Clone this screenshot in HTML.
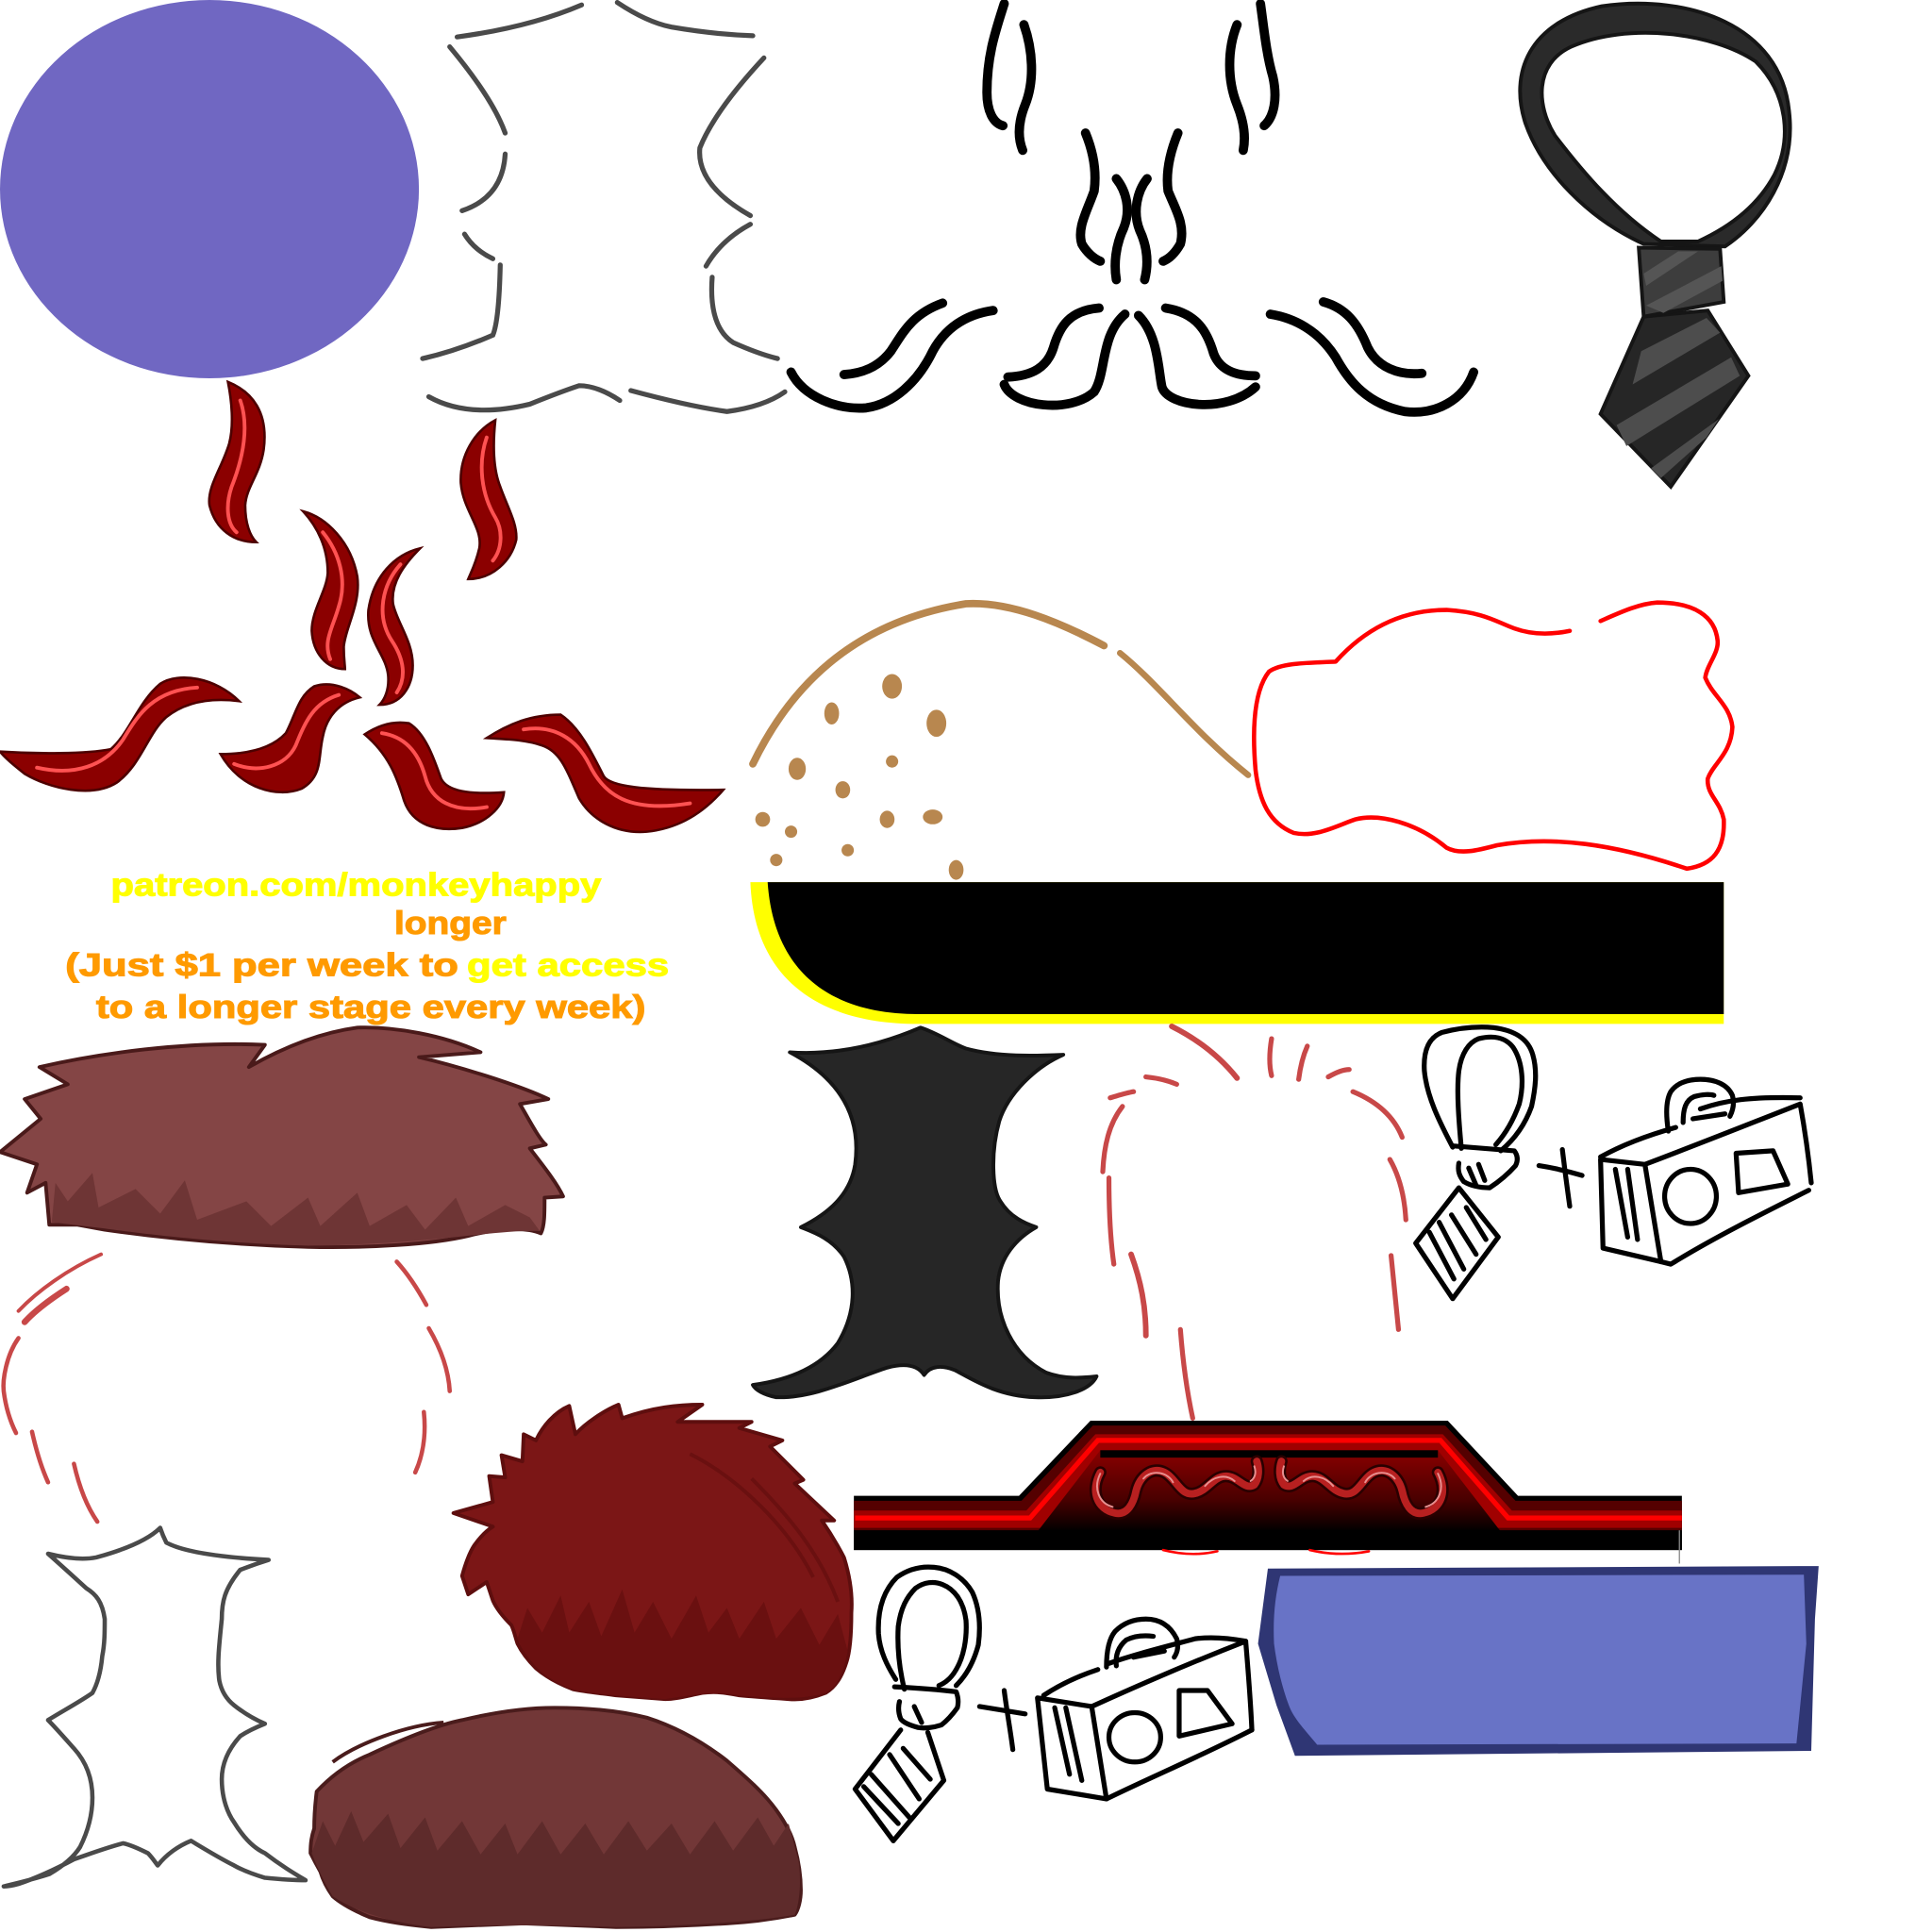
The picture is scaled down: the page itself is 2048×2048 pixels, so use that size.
<!DOCTYPE html>
<html>
<head>
<meta charset="utf-8">
<style>
html,body{margin:0;padding:0;background:#fff;}
svg{display:block;}
text{font-family:"Liberation Sans",Arial,sans-serif;font-weight:bold;}
</style>
</head>
<body>
<svg xmlns="http://www.w3.org/2000/svg" width="2048" height="2048" viewBox="0 0 1568 1568">
<defs>
<linearGradient id="pg" x1="0" y1="0" x2="0" y2="1">
<stop offset="0" stop-color="#8a0000"/>
<stop offset="0.6" stop-color="#4a0000"/>
<stop offset="1" stop-color="#000"/>
</linearGradient>
</defs>
<rect width="1568" height="1568" fill="#fff"/>

<!-- purple ellipse -->
<ellipse cx="170" cy="153.5" rx="170" ry="153.5" fill="#7067c2"/>

<!-- gray outline pieces -->
<g fill="none" stroke="#4a4a4a" stroke-width="4" stroke-linecap="round">
<path d="M371 30 Q430 22 472 4"/>
<path d="M501 2 Q525 18 545 22 Q580 28 611 29"/>
<path d="M365 38 Q400 80 410 108"/>
<path d="M410 125 Q408 160 375 171"/>
<path d="M377 190 Q385 203 400 210"/>
<path d="M406 215 Q405 260 400 272 Q370 285 343 291"/>
<path d="M348 322 Q380 340 430 328 Q455 318 470 313 Q485 313 503 325"/>
<path d="M512 317 Q560 330 590 334 Q620 330 637 318"/>
<path d="M620 47 Q580 90 568 120 Q565 150 609 175"/>
<path d="M609 182 Q585 195 573 216"/>
<path d="M578 225 Q575 265 595 278 Q615 287 631 291"/>
</g>

<!-- black squiggles & mustaches -->
<g fill="none" stroke="#000" stroke-width="7.5" stroke-linecap="round" stroke-linejoin="round">
<path d="M815 3 C808 25 801 45 801 75 C801 90 806 100 814 102"/>
<path d="M831 20 C838 40 840 65 832 85 C826 100 826 112 830 122"/>
<path d="M1023 3 C1026 25 1028 45 1033 62 C1037 80 1034 95 1026 102"/>
<path d="M1004 20 C996 40 996 65 1004 85 C1010 100 1011 112 1009 122"/>
<path d="M881 108 C888 125 890 140 888 155 C882 172 874 185 878 198 C882 205 888 210 893 212"/>
<path d="M906 145 C914 155 918 170 912 185 C905 200 904 215 906 227"/>
<path d="M931 145 C923 155 919 172 925 187 C932 202 932 215 929 227"/>
<path d="M956 108 C949 125 946 140 948 155 C954 170 962 182 958 198 C954 205 949 210 944 212"/>
<path d="M642 302 C652 322 680 333 703 331 C725 328 745 310 757 285 C768 265 785 255 806 252"/>
<path d="M685 304 C700 303 713 298 723 285 C733 270 740 255 765 246"/>
<path d="M892 250 C868 252 860 265 855 282 C850 298 838 305 818 306"/>
<path d="M815 312 C822 330 868 336 888 318 C898 303 893 272 913 255"/>
<path d="M946 250 C972 254 980 270 985 287 C990 300 1002 305 1019 305"/>
<path d="M924 256 C940 272 940 300 943 314 C948 330 995 336 1019 314"/>
<path d="M1031 255 C1050 258 1070 268 1084 290 C1095 310 1110 328 1140 334 C1165 337 1188 325 1196 302"/>
<path d="M1074 245 C1092 250 1102 262 1110 282 C1118 298 1135 305 1154 303"/>
</g>

<!-- tie top-right -->
<path fill-rule="evenodd" fill="#2a2a2a" stroke="#151515" stroke-width="3" d="M1334 198 C1290 178 1252 140 1238 100 C1225 60 1240 18 1300 5 C1370 -5 1445 20 1452 90 C1458 140 1430 180 1400 200 Z M1348 196 C1312 172 1285 140 1262 110 C1247 86 1245 52 1275 38 C1320 18 1390 26 1425 50 C1450 75 1455 112 1440 142 C1425 170 1400 186 1378 196 Z"/>
<path fill="#262626" stroke="#151515" stroke-width="3" d="M1334 257 L1386 252 L1419 305 L1356 395 L1299 336 Z"/>
<path fill="#4d4d4d" d="M1332 285 L1385 258 L1396 270 L1325 312 Z M1312 345 L1405 290 L1412 305 L1320 362 Z M1340 380 L1395 340 L1385 355 L1348 388 Z"/>
<path fill="#3d3d3d" stroke="#151515" stroke-width="3" d="M1330 201 L1396 202 L1399 245 L1334 257 Z"/>
<path fill="#555" d="M1334 222 L1362 204 L1378 204 L1336 232 Z M1336 248 L1397 216 L1398 228 L1350 254 Z"/>

<!-- red horns -->
<g fill="#8b0000" stroke="#4d0000" stroke-width="2">
<path d="M185 310 C205 318 218 335 214 365 C211 385 200 395 199 410 C199 425 203 435 208 440 C190 440 175 430 170 410 C168 395 180 380 186 360 C190 345 188 325 185 310 Z"/>
<path d="M402 341 C385 350 373 370 374 392 C376 415 392 428 389 445 C386 458 382 465 380 470 C400 470 415 455 419 438 C420 425 412 412 406 395 C400 380 400 360 402 341 Z"/>
<path d="M246 415 C265 420 285 440 290 468 C293 490 280 510 279 525 C279 535 280 540 280 543 C265 543 254 530 253 512 C253 495 265 480 266 465 C266 445 258 428 246 415 Z"/>
<path d="M341 445 C320 450 303 468 299 495 C297 520 313 530 315 548 C316 560 312 568 308 572 C325 572 335 558 335 540 C335 520 322 505 319 490 C317 473 328 458 341 445 Z"/>
<path d="M0 610 C30 612 70 612 90 608 C105 595 112 570 130 555 C145 545 175 550 194 569 C170 566 150 570 135 582 C120 595 115 620 95 635 C75 648 40 640 20 628 C10 620 4 615 0 610 Z"/>
<path d="M179 612 C200 612 220 608 232 595 C240 580 242 565 255 557 C270 552 285 560 292 566 C275 570 265 582 262 598 C258 615 262 630 245 640 C225 648 195 640 179 612 Z"/>
<path d="M296 596 C308 588 320 585 332 587 C345 595 352 615 358 632 C363 642 380 645 409 643 C408 655 395 668 375 672 C355 675 335 670 328 650 C322 630 315 612 296 596 Z"/>
<path d="M395 599 C412 588 430 580 455 580 C470 590 480 610 490 630 C495 638 520 642 587 641 C575 655 555 672 525 675 C500 677 480 665 470 648 C460 625 455 610 440 605 C425 600 410 600 395 599 Z"/>
</g>
<g fill="none" stroke="#ff5252" stroke-width="3" stroke-linecap="round">
<path d="M195 325 C202 345 198 370 188 395 C183 410 184 425 192 432"/>
<path d="M395 355 C388 375 390 400 402 420 C408 430 408 445 400 455"/>
<path d="M262 432 C275 448 282 470 275 492 C270 510 262 520 268 535"/>
<path d="M325 458 C310 475 305 500 318 520 C328 535 330 550 322 562"/>
<path d="M30 623 C60 630 85 622 100 600 C112 580 125 560 160 558"/>
<path d="M190 620 C210 628 232 622 240 605 C248 585 255 570 275 564"/>
<path d="M310 595 C330 598 340 612 345 630 C350 650 368 660 395 655"/>
<path d="M425 592 C450 588 468 600 478 620 C490 645 510 660 560 652"/>
</g>

<!-- brown arc and dots -->
<g fill="none" stroke="#b8874f" stroke-linecap="round">
<path stroke-width="6" d="M611 620 C640 560 690 505 784 490 C820 488 860 505 896 524"/>
<path stroke-width="5" d="M909 530 C940 555 970 595 1013 629"/>
</g>
<g fill="#b8874f">
<ellipse cx="724" cy="557" rx="8" ry="10"/>
<ellipse cx="675" cy="579" rx="6" ry="9"/>
<ellipse cx="760" cy="587" rx="8" ry="11"/>
<ellipse cx="647" cy="624" rx="7" ry="9"/>
<ellipse cx="724" cy="618" rx="5" ry="5"/>
<ellipse cx="684" cy="641" rx="6" ry="7"/>
<ellipse cx="619" cy="665" rx="6" ry="6"/>
<ellipse cx="720" cy="665" rx="6" ry="7"/>
<ellipse cx="757" cy="663" rx="8" ry="6"/>
<ellipse cx="642" cy="675" rx="5" ry="5"/>
<ellipse cx="688" cy="690" rx="5" ry="5"/>
<ellipse cx="630" cy="698" rx="5" ry="5"/>
<ellipse cx="776" cy="706" rx="6" ry="8"/>
</g>

<!-- red outline blob -->
<path fill="none" stroke="#ff0000" stroke-width="3.5" stroke-linecap="round" d="M1084 537 C1060 538 1040 538 1030 545 C1018 560 1016 590 1019 625 C1022 650 1030 668 1050 676 C1068 680 1085 670 1100 665 C1120 660 1150 668 1174 688 C1185 694 1200 690 1215 686 C1260 678 1310 685 1369 705 C1390 702 1400 690 1399 665 C1396 650 1385 645 1386 632 C1390 620 1405 612 1406 590 C1404 572 1390 565 1384 550 C1385 540 1395 530 1394 520 C1392 500 1375 489 1345 489 C1330 490 1315 497 1299 504 M1274 512 C1255 516 1240 514 1229 510 C1215 505 1205 497 1174 495 C1140 495 1110 508 1084 537"/>

<!-- black bar with yellow edge -->
<path fill="#ffff00" d="M609 716 C612 795 665 831 745 831 L1399 831 L1399 716 Z"/>
<path fill="#000" d="M623 716 C628 790 675 823 745 823 L1399 823 L1399 716 Z"/>

<!-- text -->
<g stroke-width="0.8">
<text x="90" y="727" font-size="26" textLength="398" lengthAdjust="spacingAndGlyphs" fill="#ffff00" stroke="#ffff00">patreon.com/monkeyhappy</text>
<text x="320" y="758" font-size="26" textLength="91" lengthAdjust="spacingAndGlyphs" fill="#ff9a00" stroke="#ff9a00">longer</text>
<text x="53" y="792" font-size="26" textLength="319" lengthAdjust="spacingAndGlyphs" fill="#ff9a00" stroke="#ff9a00">(Just $1 per week to</text>
<text x="379" y="792" font-size="26" textLength="164" lengthAdjust="spacingAndGlyphs" fill="#ffff00" stroke="#ffff00">get access</text>
<text x="78" y="826" font-size="26" textLength="446" lengthAdjust="spacingAndGlyphs" fill="#ff9a00" stroke="#ff9a00">to a longer stage every week)</text>
</g>

<!-- brown spiky hair -->
<path fill="#844545" stroke="#4a1a1a" stroke-width="3" stroke-linejoin="round" d="M32 866 C80 855 150 845 215 848 L202 866 C230 850 260 838 290 834 C320 833 360 840 390 854 L340 858 C370 865 420 880 445 892 L422 896 C430 910 438 925 443 929 L430 932 C440 945 452 960 457 971 L442 972 C442 985 442 995 439 1001 C425 995 400 998 380 1003 C350 1010 300 1013 250 1012 C180 1010 120 1003 85 998 L63 994 L40 994 L37 960 L22 968 L30 945 L0 935 L33 908 L20 892 L55 880 Z"/>
<path fill="#6e3535" d="M42 992 L45 960 L55 975 L75 952 L80 980 L110 965 L130 985 L150 958 L160 990 L200 975 L220 995 L250 972 L260 995 L290 968 L300 995 L330 978 L345 998 L370 972 L380 995 L410 978 L430 988 L438 999 C400 998 350 1010 250 1011 C180 1009 120 1002 85 997 Z"/>

<!-- red dashed hair guide left -->
<g fill="none" stroke="#c84848" stroke-width="3.5" stroke-linecap="round">
<path stroke-width="3" d="M82 1018 C55 1030 30 1048 15 1064"/>
<path stroke-width="5" d="M54 1046 C40 1055 28 1064 20 1073"/>
<path d="M15 1086 C5 1100 2 1120 3 1129 C5 1145 9 1155 13 1163"/>
<path d="M26 1162 C30 1180 34 1192 39 1203"/>
<path d="M60 1188 C65 1210 72 1225 79 1235"/>
<path d="M322 1024 C332 1035 340 1048 346 1059"/>
<path d="M348 1078 C358 1095 364 1112 365 1129"/>
<path d="M344 1146 C346 1165 343 1182 337 1195"/>
</g>

<!-- gray white shape bottom-left -->
<path fill="none" stroke="#4a4a4a" stroke-width="3.5" stroke-linejoin="round" d="M39 1261 C55 1265 68 1266 78 1264 C100 1258 120 1250 130 1240 C132 1246 134 1250 135 1252 C150 1260 180 1264 218 1266 C205 1270 198 1273 195 1274 C182 1290 180 1300 180 1314 C178 1334 176 1350 178 1364 C180 1374 185 1380 190 1384 C200 1392 208 1396 215 1399 C205 1403 198 1407 195 1409 C185 1420 180 1432 180 1444 C180 1460 185 1472 190 1479 C198 1492 206 1500 215 1504 C228 1514 238 1520 248 1526 C235 1526 225 1525 215 1524 C205 1521 197 1518 190 1514 C178 1508 165 1500 155 1494 C145 1498 135 1505 128 1514 C125 1510 123 1507 120 1504 C112 1500 105 1497 100 1496 C85 1500 72 1505 60 1509 C45 1517 30 1524 15 1529 C8 1531 5 1531 3 1531 C15 1528 28 1525 40 1521 C52 1514 60 1507 65 1499 C72 1485 75 1472 75 1459 C75 1443 70 1430 60 1419 C52 1410 45 1402 39 1396 C52 1388 65 1381 75 1374 C80 1365 82 1355 83 1344 C85 1334 85 1324 85 1314 C83 1300 78 1294 70 1289 C58 1278 48 1269 39 1261 Z"/>

<!-- dark red fluffy hair -->
<path fill="#7b1616" stroke="#5e0e0e" stroke-width="3" stroke-linejoin="round" d="M368 1228 L400 1219 L397 1198 L410 1199 L407 1181 L424 1186 L425 1164 L435 1169 C440 1158 450 1146 462 1141 L467 1164 C475 1155 490 1145 502 1140 L505 1151 C530 1142 550 1140 570 1140 L550 1154 L610 1154 L600 1159 L635 1169 L625 1174 L652 1201 L645 1204 L677 1234 L667 1234 C678 1250 685 1264 685 1264 C690 1280 692 1295 691 1309 C691 1325 690 1340 687 1349 C683 1362 677 1370 670 1374 C660 1378 650 1380 640 1379 C625 1378 610 1377 600 1376 C585 1373 578 1373 570 1374 C555 1377 548 1379 540 1379 C525 1378 512 1377 500 1376 C485 1374 475 1373 465 1371 C452 1366 442 1360 435 1354 C428 1347 423 1340 420 1334 C418 1328 417 1323 415 1319 C408 1312 403 1306 400 1299 L395 1284 L380 1294 L375 1279 C378 1268 381 1260 385 1254 C390 1247 395 1242 400 1239 Z"/>
<path fill="#6a1010" d="M420 1330 L428 1305 L440 1325 L455 1295 L462 1325 L478 1300 L488 1328 L505 1290 L515 1325 L530 1300 L545 1330 L565 1295 L575 1325 L590 1305 L600 1330 L620 1300 L630 1330 L650 1305 L665 1335 L680 1310 L688 1340 C684 1362 677 1370 670 1374 C650 1380 625 1378 600 1376 C585 1373 570 1374 540 1379 C512 1377 480 1375 465 1371 C445 1364 430 1352 420 1330 Z"/>
<path fill="none" stroke="#6a1010" stroke-width="3" d="M610 1200 C640 1230 665 1260 680 1300 M560 1180 C600 1200 640 1240 660 1280"/>

<!-- brown hair bottom -->
<path fill="#723737" stroke="#4a1c1c" stroke-width="3" stroke-linejoin="round" d="M257 1454 C270 1440 285 1430 300 1424 C330 1410 355 1400 375 1396 C400 1390 425 1386 450 1386 C480 1386 505 1389 525 1394 C550 1402 572 1415 590 1429 C605 1442 620 1455 630 1469 C638 1480 643 1490 645 1499 C648 1510 650 1522 650 1534 C650 1542 648 1550 645 1554 C625 1558 610 1560 590 1561 C560 1563 530 1564 500 1564 C475 1563 450 1562 425 1561 C400 1562 375 1563 350 1564 C330 1562 315 1560 300 1556 C288 1551 278 1546 270 1539 C265 1532 262 1526 260 1519 C256 1512 254 1508 252 1504 C252 1495 253 1490 255 1484 C255 1472 256 1462 257 1454 Z"/>
<path fill="#5e2b2b" d="M253 1504 L262 1478 L272 1498 L285 1470 L295 1495 L315 1472 L325 1500 L345 1475 L355 1502 L375 1478 L390 1505 L410 1480 L420 1505 L440 1478 L455 1505 L475 1480 L490 1505 L510 1478 L525 1502 L545 1480 L560 1505 L580 1478 L595 1502 L615 1475 L628 1498 L640 1480 L648 1510 C650 1522 650 1542 645 1554 C610 1560 560 1563 500 1564 C450 1562 400 1562 350 1564 C315 1560 288 1551 270 1539 C262 1526 256 1512 253 1504 Z"/>
<path fill="none" stroke="#4a1c1c" stroke-width="3" d="M270 1430 C290 1415 330 1400 360 1398"/>

<!-- black bat shape -->
<path fill="#262626" stroke="#151515" stroke-width="3" stroke-linejoin="round" d="M641 854 C670 856 705 852 747 834 C760 838 775 848 784 851 C810 858 840 857 863 856 C840 866 818 888 811 910 C804 935 805 965 812 975 C820 988 832 993 841 996 C825 1005 812 1020 810 1040 C808 1070 822 1100 849 1114 C865 1120 880 1118 890 1117 C885 1128 865 1135 840 1134 C810 1133 790 1120 775 1112 C765 1108 755 1108 750 1116 C745 1108 735 1106 720 1110 C690 1120 660 1135 630 1134 C620 1132 613 1128 611 1124 C640 1120 665 1110 680 1090 C695 1065 695 1040 685 1020 C675 1005 660 1000 650 996 C672 985 690 970 694 945 C698 915 690 880 641 854 Z"/>

<!-- red dashed hair guide right -->
<g fill="none" stroke="#c84848" stroke-width="4" stroke-linecap="round">
<path stroke-width="4.5" d="M951 833 C975 845 992 860 1004 875"/>
<path d="M1032 843 C1030 855 1030 865 1032 873"/>
<path d="M1061 849 C1057 858 1055 868 1054 876"/>
<path d="M1078 874 C1085 870 1090 868 1095 868"/>
<path d="M930 874 C940 875 948 877 955 880"/>
<path d="M901 891 C908 889 914 887 920 886"/>
<path d="M1098 886 C1120 895 1132 908 1138 923"/>
<path d="M911 898 C900 912 896 930 895 951"/>
<path d="M1128 941 C1136 955 1140 972 1141 990"/>
<path d="M900 956 C900 980 901 1005 904 1026"/>
<path stroke-width="4.5" d="M918 1018 C926 1040 930 1060 930 1084"/>
<path d="M1129 1019 C1131 1040 1133 1060 1135 1079"/>
<path d="M958 1079 C960 1105 963 1128 968 1151"/>
</g>

<!-- sketch tie + camera top -->
<g fill="none" stroke="#000" stroke-width="4" stroke-linecap="round" stroke-linejoin="round">
<path d="M1179 931 C1168 910 1158 890 1156 869 C1155 852 1160 842 1170 838 C1185 834 1200 833 1212 834 C1228 836 1240 842 1244 856 C1248 870 1246 884 1243 898 C1238 912 1230 924 1218 934"/>
<path d="M1186 932 C1184 910 1182 885 1184 869 C1186 855 1192 846 1200 843 C1212 840 1222 842 1228 850 C1236 862 1237 880 1233 896 C1228 910 1222 920 1214 929"/>
<path d="M1179 930 L1229 934 C1232 938 1232 942 1230 946 C1222 955 1215 960 1209 964 C1200 964 1193 962 1188 959 C1184 954 1183 950 1184 944"/>
<path d="M1149 1009 L1184 964 L1216 1004 L1179 1054 Z"/>
<path d="M1160 1000 L1180 1038 M1168 992 L1188 1030 M1178 986 L1198 1018 M1190 980 L1206 1006"/>
<path d="M1200 945 L1205 958 M1192 948 L1198 962"/>
<path d="M1249 946 C1262 948 1274 951 1284 954 M1268 933 C1270 950 1272 965 1274 979"/>
<path d="M1299 941 L1335 945 L1348 1024 L1301 1013 Z"/>
<path d="M1335 945 C1380 928 1420 912 1461 896 C1465 918 1468 940 1470 960"/>
<path d="M1468 966 C1430 985 1390 1005 1356 1026 L1348 1024"/>
<path d="M1299 939 C1315 930 1335 922 1360 915 M1380 900 C1400 893 1420 890 1461 891"/>
<path d="M1354 918 C1352 905 1352 893 1356 886 C1360 880 1368 876 1380 876 C1392 876 1402 880 1406 889 C1408 896 1406 902 1404 906"/>
<path d="M1366 911 C1366 900 1368 893 1375 890 C1382 888 1388 888 1391 889"/>
<path d="M1374 908 L1400 904"/>
<ellipse cx="1372" cy="971" rx="21" ry="22"/>
<path d="M1409 936 L1439 934 L1451 961 L1411 968 Z"/>
<path d="M1311 949 L1321 1004 M1321 949 L1329 1006"/>
</g>

<!-- stage bar -->
<polygon fill="#000" points="693,1214 827,1214 885,1153 1175,1153 1232,1214 1365,1214 1365,1258 693,1258"/>
<polygon fill="#550000" points="693,1218 829,1218 887,1157 1173,1157 1230,1218 1365,1218 1365,1242 693,1242"/>
<polygon fill="#a00000" points="693,1226 833,1226 889,1164 1171,1164 1227,1226 1365,1226 1365,1240 693,1240"/>
<polyline fill="none" stroke="#ff0000" stroke-width="4" points="694,1232 836,1232 891,1169 1169,1169 1224,1232 1365,1232"/>
<polygon fill="url(#pg)" points="893,1177 1167,1177 1218,1243 842,1243"/>
<rect x="893" y="1177" width="274" height="6" fill="#000"/>
<rect x="693" y="1242" width="672" height="16" fill="#000"/>
<g fill="none" stroke-linecap="round" stroke-linejoin="round">
<path stroke="#2a0000" stroke-width="10" d="M893 1195 C885 1210 890 1225 905 1228 C915 1230 920 1220 922 1210 C925 1198 935 1190 945 1195 C955 1200 958 1215 970 1212 C980 1210 985 1198 995 1198 C1005 1198 1010 1210 1018 1205 C1022 1200 1022 1192 1020 1186"/>
<path stroke="#2a0000" stroke-width="10" d="M1167 1195 C1175 1210 1170 1225 1155 1228 C1145 1230 1140 1220 1138 1210 C1135 1198 1125 1190 1115 1195 C1105 1200 1102 1215 1090 1212 C1080 1210 1075 1198 1065 1198 C1055 1198 1050 1210 1042 1205 C1038 1200 1038 1192 1040 1186"/>
<path stroke="#b82020" stroke-width="6" d="M893 1195 C885 1210 890 1225 905 1228 C915 1230 920 1220 922 1210 C925 1198 935 1190 945 1195 C955 1200 958 1215 970 1212 C980 1210 985 1198 995 1198 C1005 1198 1010 1210 1018 1205 C1022 1200 1022 1192 1020 1186"/>
<path stroke="#b82020" stroke-width="6" d="M1167 1195 C1175 1210 1170 1225 1155 1228 C1145 1230 1140 1220 1138 1210 C1135 1198 1125 1190 1115 1195 C1105 1200 1102 1215 1090 1212 C1080 1210 1075 1198 1065 1198 C1055 1198 1050 1210 1042 1205 C1038 1200 1038 1192 1040 1186"/>
<path stroke="#e89090" stroke-width="1.5" d="M893 1196 C887 1208 892 1220 903 1223 M928 1200 C935 1192 948 1195 952 1203 M978 1206 C985 1198 995 1196 1002 1202 M1018 1190 C1020 1196 1018 1200 1015 1202"/>
<path stroke="#e89090" stroke-width="1.5" d="M1167 1196 C1173 1208 1168 1220 1157 1223 M1132 1200 C1125 1192 1112 1195 1108 1203 M1082 1206 C1075 1198 1065 1196 1058 1202 M1042 1190 C1040 1196 1042 1200 1045 1202"/>
<path stroke="#ff0000" stroke-width="2" d="M944 1258 C960 1262 975 1262 988 1259 M1063 1258 C1080 1262 1095 1262 1111 1259"/>
</g>
<line x1="1363" y1="1242" x2="1363" y2="1269" stroke="#888" stroke-width="1"/>

<!-- blue box -->
<path fill="#2f3674" d="M1029 1273 L1476 1271 L1473 1314 L1470 1421 L1051 1425 L1036 1384 L1021 1334 Z"/>
<path fill="#6873c6" d="M1039 1279 L1464 1278 L1466 1334 L1458 1415 L1069 1416 C1060 1405 1050 1395 1046 1384 C1040 1368 1036 1350 1034 1334 C1033 1312 1035 1295 1039 1279 Z"/>

<!-- sketch tie + camera bottom -->
<g fill="none" stroke="#000" stroke-width="4" stroke-linecap="round" stroke-linejoin="round">
<path d="M727 1363 C720 1352 714 1340 713 1326 C712 1305 718 1290 728 1280 C738 1273 748 1271 758 1272 C770 1273 782 1280 789 1292 C795 1305 796 1320 794 1335 C790 1350 784 1360 776 1368"/>
<path d="M734 1371 C730 1355 728 1338 729 1320 C731 1305 736 1296 743 1289 C750 1284 758 1283 765 1286 C775 1290 782 1300 784 1315 C785 1330 782 1345 776 1355 C772 1362 767 1366 762 1368"/>
<path d="M726 1369 C745 1370 760 1371 776 1373 C778 1378 778 1382 777 1386 C772 1393 768 1397 764 1400 C758 1402 750 1403 745 1402 C738 1400 733 1398 731 1395 C729 1390 729 1385 730 1381"/>
<path d="M731 1404 L694 1452 L725 1494 L766 1445 L753 1406"/>
<path d="M701 1450 L729 1480 M707 1440 L738 1475 M722 1424 L746 1460 M733 1419 L755 1444"/>
<path d="M742 1385 L748 1398"/>
<path d="M795 1385 C808 1387 820 1389 832 1391 M815 1372 C817 1388 820 1404 822 1420"/>
<path d="M842 1378 L886 1385 L898 1460 L850 1452 Z"/>
<path d="M886 1385 C930 1365 970 1348 1011 1332 C1013 1356 1015 1380 1016 1404"/>
<path d="M1016 1404 C975 1425 935 1442 898 1460"/>
<path d="M847 1376 C862 1366 876 1360 891 1355 M900 1350 C920 1343 940 1338 970 1330 C985 1328 1000 1330 1011 1332"/>
<path d="M898 1353 C898 1340 900 1330 905 1324 C912 1317 920 1314 930 1314 C942 1314 950 1320 955 1330 C957 1337 955 1342 953 1345"/>
<path d="M906 1352 C905 1343 908 1336 914 1331 C920 1328 928 1327 936 1328"/>
<path d="M920 1345 L945 1340"/>
<ellipse cx="921" cy="1410" rx="21" ry="20"/>
<path d="M957 1372 L980 1372 L1000 1399 L957 1409 Z"/>
<path d="M865 1386 L878 1445 M856 1386 L868 1440"/>
</g>
</svg>
</body>
</html>
